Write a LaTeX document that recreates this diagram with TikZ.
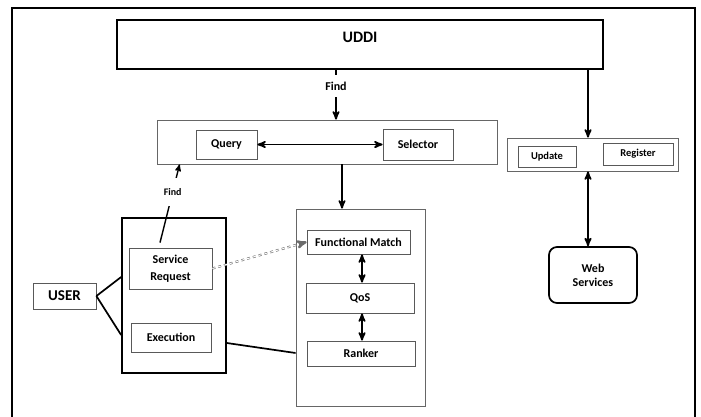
\documentclass[tikz,border=0pt]{standalone}
\usepackage{fontspec}
\setmainfont{Carlito}
\usetikzlibrary{positioning, arrows, shadows}

\begin{document}
\begin{tikzpicture}[x=1pt,y=-1pt,>=stealth',semithick,
  every node/.style={font=\bfseries\fontsize{12}{14}\selectfont},
  outer/.style={rectangle,draw=black,line width=1.7pt,fill=white,inner sep=0pt},
  frame/.style={rectangle,draw=gray!80!black,line width=0.8pt,fill=white,inner sep=0pt},
  inbox/.style={rectangle,draw=gray!70!black,line width=0.8pt,fill=white,inner sep=0pt,align=center},
  shade/.style={drop shadow={shadow xshift=1.2pt,shadow yshift=-1.2pt,fill=gray!70,opacity=1}},
  link/.style={->,line width=1.8pt},
  both/.style={<->,line width=1.8pt},
  findlbl/.style={fill=white,inner sep=1pt}]

\useasboundingbox (0,0) rectangle (701,416);
\draw[line width=1.6pt] (12,418) -- (12,8) -- (695,8) -- (695,418);

\node[outer, minimum width=486pt, minimum height=49pt,
      label={[font=\bfseries\fontsize{16}{18}\selectfont,yshift=7.5pt]center:UDDI}] (uddi) at (360,44.5) {};

\node[frame, shade, minimum width=340pt, minimum height=44pt] (qs) at (327,142) {};
\node[inbox, minimum width=61pt, minimum height=29pt] (query) at (226.5,144.5) {Query};
\node[inbox, minimum width=70pt, minimum height=31pt] (selector) at (418,144.5) {Selector};

\node[frame, shade, minimum width=171pt, minimum height=33pt] (ur) at (592.5,154.5) {};
\node[inbox, shade, font=\bfseries\fontsize{10.5}{12}\selectfont, minimum width=58pt, minimum height=21pt] (update) at (547,156.5) {Update};
\node[inbox, shade, font=\bfseries\fontsize{10.5}{12}\selectfont, minimum width=70pt, minimum height=22pt] (register) at (638,154) {Register};

\node[outer, rounded corners=8pt, align=center, minimum width=88pt, minimum height=56pt] (websvc) at (593,275) {Web\\Services};

\node[inbox, font=\bfseries\fontsize{15}{17}\selectfont, minimum width=63pt, minimum height=26pt] (user) at (64.5,296) {USER};

\node[outer, minimum width=104pt, minimum height=155pt] (req) at (174,295.5) {};
\node[inbox, font=\bfseries\fontsize{12}{17}\selectfont, minimum width=83pt, minimum height=41pt] (servreq) at (170.5,268.5) {Service\\Request};
\node[inbox, minimum width=80pt, minimum height=29pt] (exec) at (171,337.5) {Execution};

\node[frame, shade, minimum width=129pt, minimum height=197pt] (func) at (360.5,307.5) {};
\node[inbox, minimum width=103pt, minimum height=24pt] (match) at (358.5,242) {Functional Match};
\node[inbox, minimum width=108pt, minimum height=30pt] (qos) at (360,298) {QoS};
\node[inbox, minimum width=108pt, minimum height=25pt] (ranker) at (361,353.5) {Ranker};

% finding services
\draw[link] ([xshift=-24pt]uddi.south) -- node[findlbl, pos=0.33, minimum height=22pt] (find1) {Find} ([xshift=9pt]qs.north);
\draw[->, line width=1.4pt] ([xshift=-10.5pt,yshift=5pt]servreq.north) -- node[findlbl, pos=0.645, minimum height=28pt, font=\bfseries\fontsize{10}{11}\selectfont] (find2) {Find} ([xshift=23pt]qs.south west);

\draw[both] (query.east) -- (selector.west);
\draw[link] ([xshift=15pt]qs.south) -- ([xshift=-18.5pt]func.north);
\draw[link] ([xshift=228pt]uddi.south) -- ([xshift=-4.5pt]ur.north);
\draw[both] ([xshift=-4.5pt]ur.south) -- ([xshift=-5pt]websvc.north);

\draw[both] ([xshift=3.5pt]match.south) -- ([xshift=2pt]qos.north);
\draw[both] ([xshift=2pt]qos.south) -- ([xshift=1pt]ranker.north);

\draw[line width=1.7pt] (user.east) -- ([yshift=18.5pt]req.west);
\draw[line width=1.7pt] (user.east) -- ([yshift=-39.5pt]req.west);
\draw[line width=1.7pt] ([yshift=-47.5pt]req.east) -- ([yshift=-45.5pt]func.west);

\draw[->, gray!85!black, dashed, double=white, double distance=1pt] (servreq.east) -- (match.west);

\end{tikzpicture}
\end{document}
